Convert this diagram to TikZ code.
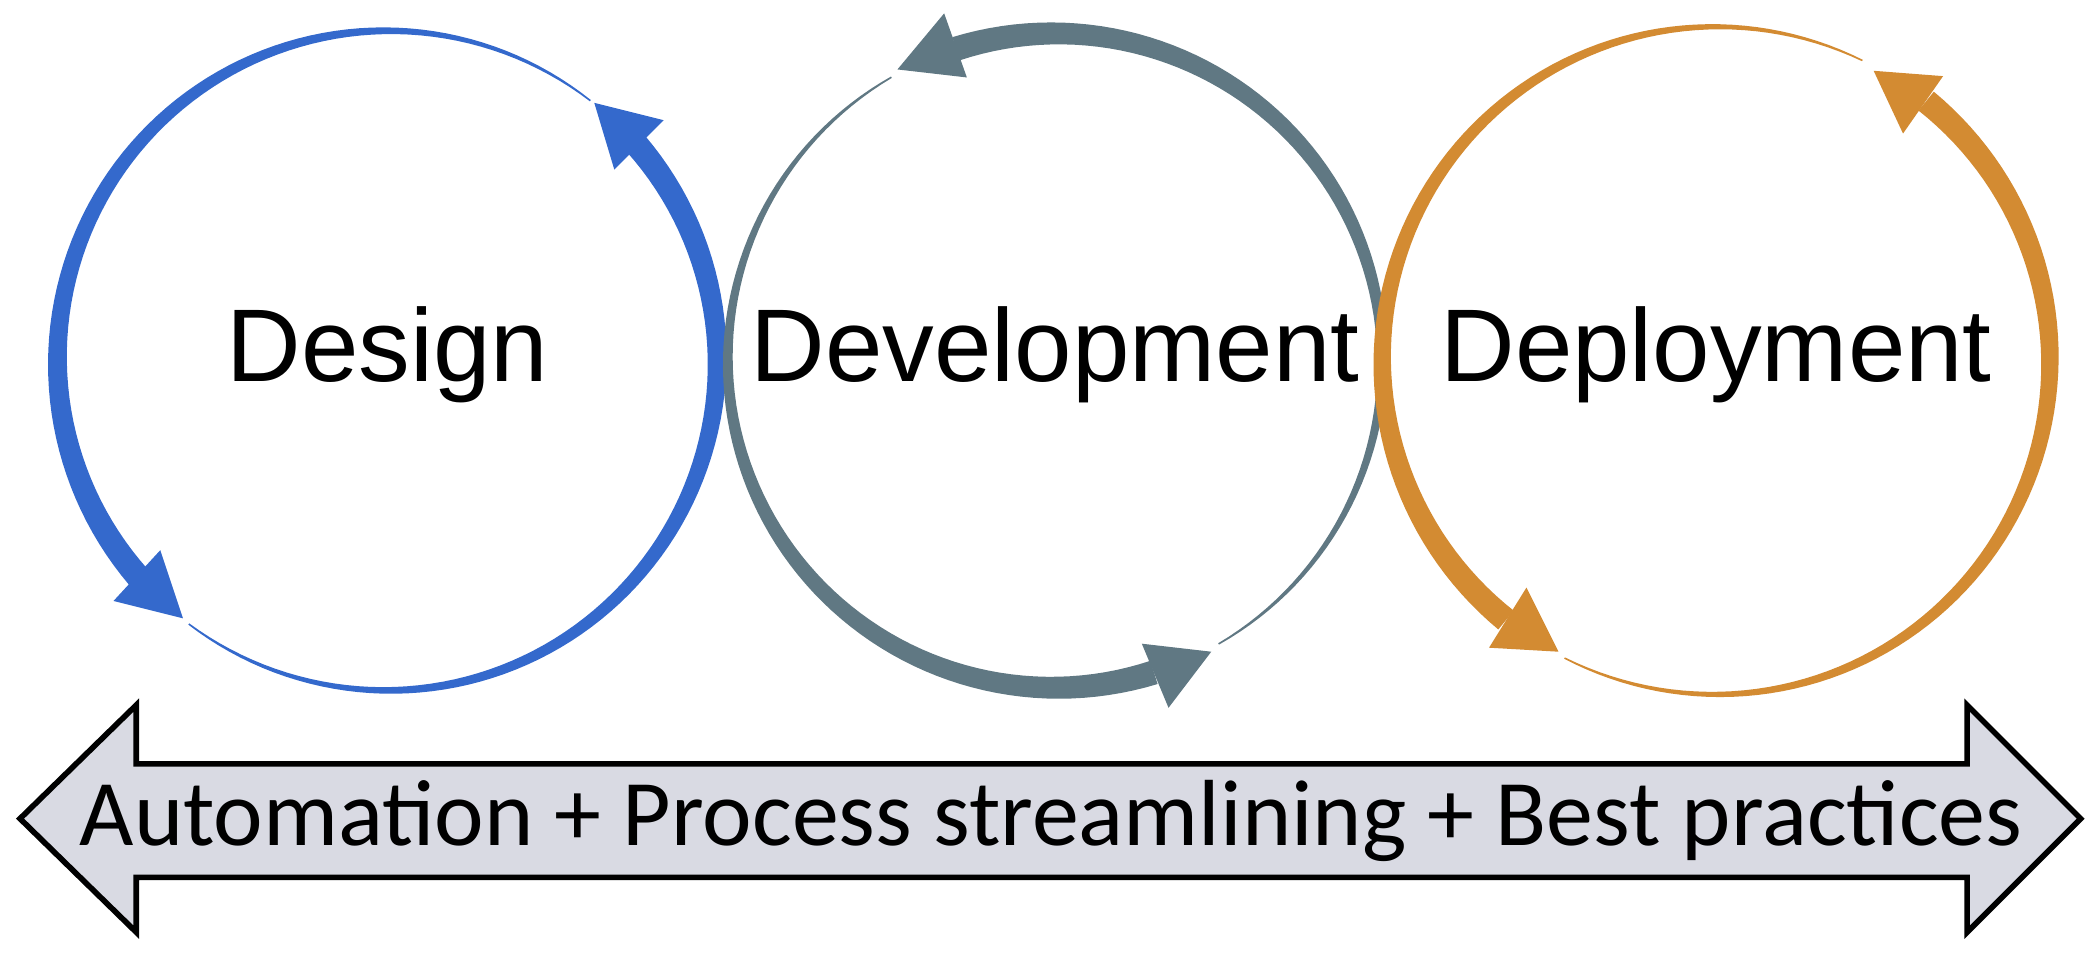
\documentclass[tikz,border=0pt]{standalone}
\usepackage{fontspec}
\setmainfont{Liberation Sans}
\newfontfamily\carlitofam{Carlito}
\definecolor{cblue}{HTML}{3469CC}
\definecolor{cgray}{HTML}{607883}
\definecolor{corange}{HTML}{D38B32}
\definecolor{cband}{HTML}{D9DAE3}
\newcommand{\taparc}[6]{%
 \fill[#6,shift={(#1)}] plot[domain=#3:#4,samples=80] (\x:{#2+#5/2*(\x-(#4))/((#3)-(#4))+0.6})
 -- plot[domain=#4:#3,samples=80] (\x:{#2-#5/2*(\x-(#4))/((#3)-(#4))-0.6}) -- cycle;}
\begin{document}
\begin{tikzpicture}[x=0.01cm,y=0.01cm,
  lbl/.style={font=\fontsize{22}{26}\selectfont}]
\useasboundingbox (0,0) rectangle (1568,723);
% centers
\coordinate (c1) at (290,453);
\coordinate (c2) at (790,453);
\coordinate (c3) at (1285,453);
% Design
\taparc{c1}{247}{41}{-127}{17}{cblue}
\taparc{c1}{247}{221}{52}{17}{cblue}
\fill[cblue] (445,646) -- (497,633) -- (460,596) -- cycle;
\fill[cblue] (137,260) -- (85,273) -- (120,311) -- cycle;
% Development
\taparc{c2}{245}{107.6}{-60}{17}{cgray}
\taparc{c2}{245}{-72.4}{-240}{17}{cgray}
\fill[cgray] (672,671) -- (707,713) -- (724,665) -- cycle;
\fill[cgray] (907,235) -- (855,241) -- (875,193) -- cycle;
% Deployment
\taparc{c3}{250}{51}{-117}{17}{corange}
\taparc{c3}{250}{231}{64}{17}{corange}
\fill[corange] (1403,670) -- (1455,666) -- (1425,623) -- cycle;
\fill[corange] (1167,235) -- (1143,283) -- (1115,238) -- cycle;
% labels
\node[lbl] (t1) at (290,457) {Design};
\node[lbl] (t2) at (790,457) {Development};
\node[lbl] (t3) at (1285,457) {Deployment};
% band arrow
\draw[fill=cband,line width=1.2pt,line join=miter]
 (15,110) -- (102,195) -- (102,151) -- (1473,151) -- (1473,195) -- (1558,110)
 -- (1473,25) -- (1473,66) -- (102,66) -- (102,25) -- cycle;
\node[font=\carlitofam\fontsize{20}{24}\selectfont] (band) at (787,108) {Automation + Process streamlining + Best practices};
\end{tikzpicture}
\end{document}
